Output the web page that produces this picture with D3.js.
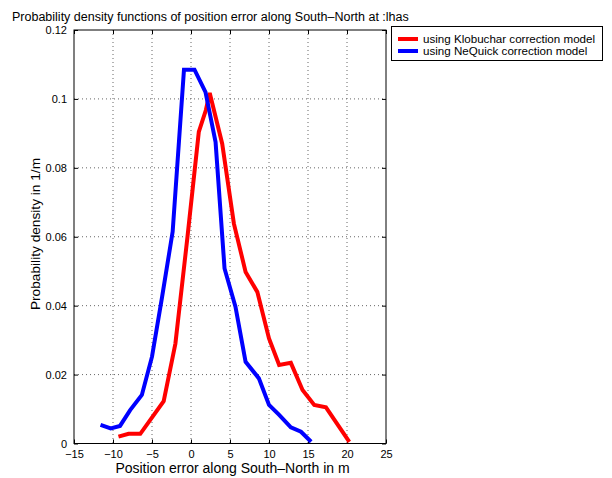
<!DOCTYPE html>
<html>
<head>
<meta charset="utf-8">
<script src="https://cdn.jsdelivr.net/npm/d3@7"></script>
<style>
  body { margin: 0; background: #fff; }
  text { font-family: "Liberation Sans", Arial, sans-serif; fill: #000; }
</style>
</head>
<body>
<script>
var WIDTH = 612,
    HEIGHT = 478;

var klobX = [-9.3, -8.0, -6.5, -3.5, -2.0, -0.45, 1.0, 1.9, 2.4, 4.0, 5.5, 7.0, 8.5, 10.0, 11.3, 12.8, 14.3, 15.8, 17.3, 20.3];
var klobY = [0.002, 0.0028, 0.0028, 0.0123, 0.029, 0.060, 0.0904, 0.0967, 0.1017, 0.087, 0.0638, 0.0498, 0.044, 0.0305, 0.0228, 0.0234, 0.0155, 0.0112, 0.0105, 0.0005];

var neqX = [-11.6, -10.3, -9.1, -7.8, -6.3, -5.0, -3.7, -2.35, -0.9, 0.45, 1.86, 3.15, 4.3, 5.7, 7.0, 8.7, 10.0, 11.3, 12.8, 14.1, 15.4];
var neqY = [0.0054, 0.0044, 0.0051, 0.0097, 0.0141, 0.0252, 0.0426, 0.0615, 0.1085, 0.1085, 0.102, 0.0875, 0.0508, 0.0397, 0.0237, 0.0189, 0.0112, 0.0083, 0.0047, 0.0034, 0.0005];

var xTicks = [-15, -10, -5, 0, 5, 10, 15, 20, 25];
var yTicks = [0, 0.02, 0.04, 0.06, 0.08, 0.1, 0.12];

var seriesNames = ["using Klobuchar correction model", "using NeQuick correction model"];
var seriesColors = ["#ff0000", "#0000ff"];

// plot box (window.top is taken, so prefix these)
var plotL = 74, plotR = 386, plotT = 30, plotB = 443.5;

var svg = d3.select("body").append("svg")
    .attr("width", WIDTH)
    .attr("height", HEIGHT);

var x = d3.scaleLinear().domain([-15, 25]).range([plotL, plotR]);
var y = d3.scaleLinear().domain([0, 0.12]).range([plotB, plotT]);

svg.append("rect")
    .attr("x", plotL).attr("y", plotT)
    .attr("width", plotR - plotL).attr("height", plotB - plotT)
    .style("fill", "#fff");

// dotted grid
svg.append("g").selectAll("line").data(xTicks.slice(1, -1)).enter().append("line")
    .attr("x1", function(d){ return x(d); }).attr("x2", function(d){ return x(d); })
    .attr("y1", plotT).attr("y2", plotB)
    .style("stroke", "#666").style("stroke-width", 1).style("stroke-dasharray", "1,3");
svg.append("g").selectAll("line").data(yTicks.slice(1, -1)).enter().append("line")
    .attr("y1", function(d){ return y(d); }).attr("y2", function(d){ return y(d); })
    .attr("x1", plotL).attr("x2", plotR)
    .style("stroke", "#666").style("stroke-width", 1).style("stroke-dasharray", "1,3");

// axes, ticks pointing inward like matlab
var xAxis = svg.append("g").attr("transform", "translate(0," + plotB + ")")
    .call(d3.axisBottom(x).tickValues(xTicks).tickSizeInner(-4).tickSizeOuter(0).tickPadding(7));
var yAxis = svg.append("g").attr("transform", "translate(" + plotL + ",0)")
    .call(d3.axisLeft(y).tickValues(yTicks).tickSizeInner(-4).tickSizeOuter(0).tickPadding(7)
      .tickFormat(function(d){ return d === 0 ? "0" : String(+d.toFixed(2)); }));
svg.append("g").attr("transform", "translate(0," + plotT + ")")
    .call(d3.axisTop(x).tickValues(xTicks).tickSizeInner(-4).tickSizeOuter(0).tickFormat(""));
svg.append("g").attr("transform", "translate(" + plotR + ",0)")
    .call(d3.axisRight(y).tickValues(yTicks).tickSizeInner(-4).tickSizeOuter(0).tickFormat(""));

svg.selectAll(".domain").remove();
svg.selectAll(".tick text").style("font-size", "11px").style("font-family", "Liberation Sans, Arial, sans-serif");
xAxis.selectAll(".tick text").text(function(d){ return d < 0 ? "\u2212" + (-d) : d; });

svg.append("rect")
    .attr("x", plotL).attr("y", plotT)
    .attr("width", plotR - plotL).attr("height", plotB - plotT)
    .style("fill", "none").style("stroke", "#000").style("stroke-width", 1);

// curves
var line = d3.line()
    .x(function(d){ return x(d[0]); })
    .y(function(d){ return y(d[1]); });

var series = [d3.zip(klobX, klobY), d3.zip(neqX, neqY)];
svg.append("g").selectAll("path").data(series).enter().append("path")
    .attr("d", line)
    .style("fill", "none")
    .style("stroke", function(d, i){ return seriesColors[i]; })
    .style("stroke-width", 4)
    .style("stroke-linejoin", "miter");

// labels
svg.append("text")
    .attr("x", 12).attr("y", 21)
    .style("font-size", "12.5px")
    .text("Probability density functions of position error along South\u2013North at :lhas");

svg.append("text")
    .attr("x", 232.5).attr("y", 473)
    .attr("text-anchor", "middle")
    .style("font-size", "14px")
    .text("Position error along South\u2013North in m");

svg.append("text")
    .attr("transform", "translate(40,234) rotate(-90)")
    .attr("text-anchor", "middle")
    .style("font-size", "13.7px")
    .text("Probability density in 1/m");

// legend
var legend = svg.append("g");
legend.append("rect")
    .attr("x", 391.5).attr("y", 26.5).attr("width", 211).attr("height", 34)
    .style("fill", "#fff").style("stroke", "#000").style("stroke-width", 1);
var items = legend.selectAll("g.item").data(seriesNames).enter().append("g").attr("class", "item")
    .attr("transform", function(d, i){ return "translate(0," + (39 + i * 12) + ")"; });
items.append("line")
    .attr("x1", 398).attr("x2", 418).attr("y1", 0).attr("y2", 0)
    .style("stroke", function(d, i){ return seriesColors[i]; })
    .style("stroke-width", 4);
items.append("text")
    .attr("x", 423).attr("y", 4)
    .style("font-size", "11.6px")
    .text(function(d){ return d; });
</script>
</body>
</html>
